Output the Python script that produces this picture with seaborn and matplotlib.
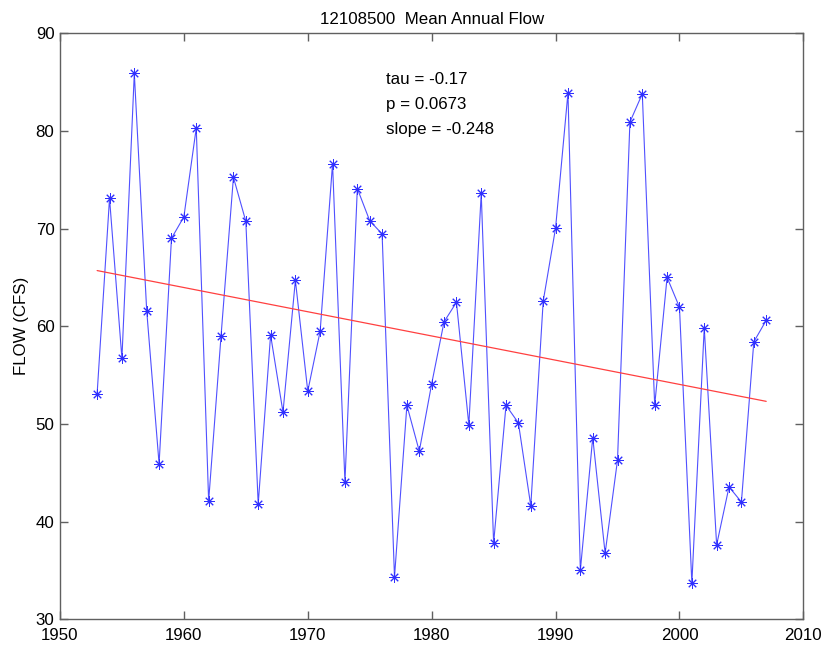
import numpy as np
import pandas as pd
import matplotlib
matplotlib.use("Agg")
import matplotlib.pyplot as plt
import seaborn as sns

# Mean annual flow, station 12108500
years = list(range(1953, 2008))
flow = [53.1, 73.1, 56.7, 85.9, 61.6, 45.9, 69.0, 71.2, 80.3, 42.1,
        59.0, 75.25, 70.75, 41.8, 59.1, 51.2, 64.7, 53.35, 59.5, 76.65,
        44.05, 74.1, 70.8, 69.45, 34.3, 51.9, 47.2, 54.1, 60.45, 62.45,
        49.9, 73.6, 37.8, 51.9, 50.1, 41.6, 62.55, 70.05, 83.9, 35.0,
        48.6, 36.75, 46.3, 80.9, 83.8, 51.9, 65.0, 61.95, 33.7, 59.85,
        37.6, 43.55, 42.0, 58.4, 60.6]

# Sen slope trend line
trend_start = 65.7
slope = -0.248
stats_text = "tau = -0.17\np = 0.0673\nslope = -0.248"

df = pd.DataFrame({"year": years, "flow": flow})
df["trend"] = trend_start + slope * (df["year"] - years[0])

sns.set_style("white")
plt.rcParams["font.family"] = ["Liberation Sans", "DejaVu Sans"]
plt.rcParams["text.color"] = "black"
plt.rcParams["axes.labelcolor"] = "black"
plt.rcParams["xtick.color"] = "black"
plt.rcParams["ytick.color"] = "black"

fig = plt.figure(figsize=(8.26, 6.46), dpi=100)
ax = fig.add_axes([0.0726, 0.0415, 0.9, 0.907])

sns.lineplot(data=df, x="year", y="flow", ax=ax, color="#5050ff",
             linewidth=0.8, marker=(8, 2, 0), markersize=7.5,
             markeredgecolor="#3030ff", markeredgewidth=0.7)
sns.lineplot(data=df, x="year", y="trend", ax=ax, color="#ff4040",
             linewidth=0.9)

ax.set_xlim(1950, 2010)
ax.set_ylim(30, 90)
ax.set_xticks(range(1950, 2011, 10))
ax.set_yticks(range(30, 91, 10))
ax.set_xlabel("")
ax.set_ylabel("FLOW (CFS)", fontsize=12.2, labelpad=5)
ax.set_title("12108500  Mean Annual Flow", fontsize=12.2, pad=7)

for s in ax.spines.values():
    s.set_color("#606060")
    s.set_linewidth(1.0)
ax.tick_params(direction="in", length=6, width=1.0, color="#606060",
               labelcolor="black", labelsize=12.2,
               top=True, right=True, bottom=True, left=True)
ax.tick_params(axis="x", pad=6)
ax.tick_params(axis="y", pad=4)

ax.text(1976.3, 86.0, stats_text, fontsize=12.2, va="top", ha="left",
        linespacing=1.8)

fig.savefig("out.png", dpi=100)
